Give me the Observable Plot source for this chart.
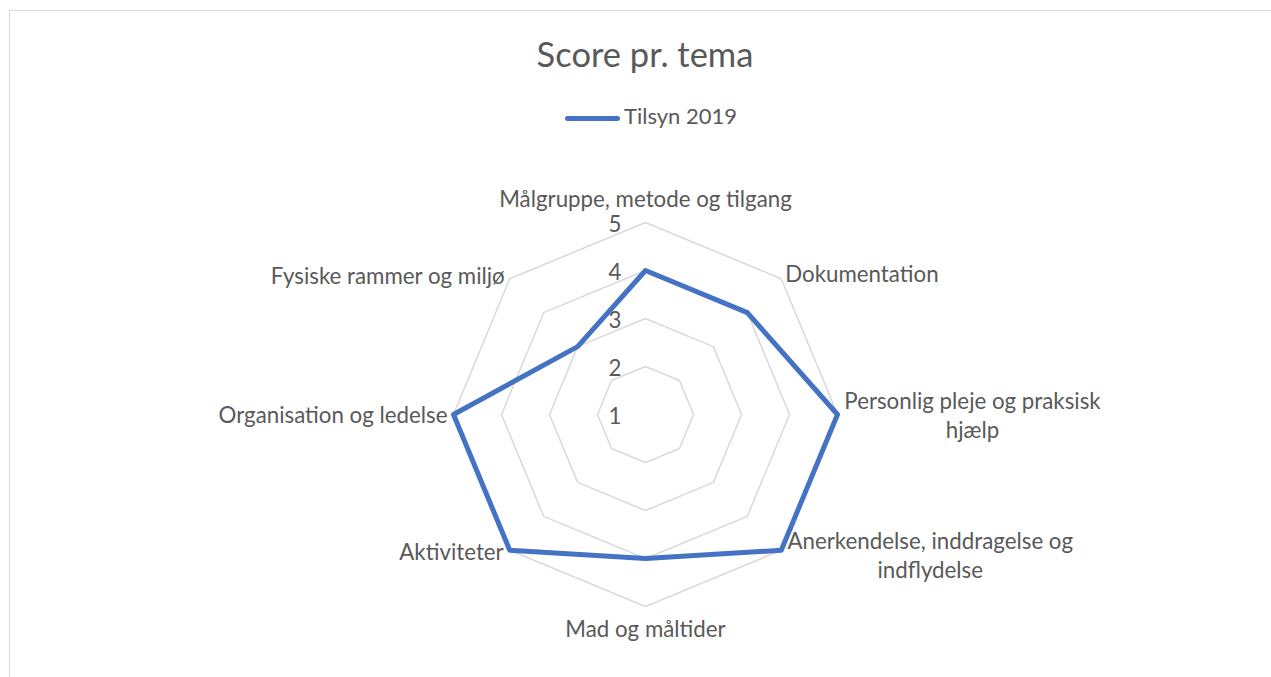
<!DOCTYPE html>
<html><head><meta charset="utf-8">
<script src="https://cdn.jsdelivr.net/npm/d3@7"></script>
<script src="https://cdn.jsdelivr.net/npm/@observablehq/plot@0.6"></script>
<style>
html,body{margin:0;padding:0;background:#fff;overflow:hidden;}
#wrap{position:relative;width:1271px;height:677px;font-family:Lato,"Open Sans",sans-serif;color:#595959;overflow:hidden;}
#frame{position:absolute;left:9px;top:10px;width:1300px;height:700px;border:1px solid #D9D9D9;box-sizing:border-box;}
#title{position:absolute;left:0;width:1290px;top:37px;text-align:center;font-size:34.5px;line-height:1;white-space:nowrap;}
#legline{position:absolute;left:565px;top:116px;width:55px;height:5px;border-radius:3px;background:#4472C4;}
#legtext{position:absolute;left:624px;top:105px;font-size:22px;line-height:1;white-space:nowrap;}
#chart{position:absolute;left:0;top:150px;}
</style>
</head><body>
<div id="wrap">
  <div id="frame"></div>
  <div id="title"></div>
  <div id="legline"></div>
  <div id="legtext"></div>
  <div id="chart"></div>
</div>
<script>
const chartTitle = "Score pr. tema";
const seriesName = "Tilsyn 2019";
const categories = [
  "Målgruppe, metode og tilgang",
  "Dokumentation",
  "Personlig pleje og praksisk hjælp",
  "Anerkendelse, inddragelse og indflydelse",
  "Mad og måltider",
  "Aktiviteter",
  "Organisation og ledelse",
  "Fysiske rammer og miljø"
];
const scores = [4, 4, 5, 5, 4, 5, 5, 3];
const ringLevels = [1, 2, 3, 4, 5];
const axisMin = 1, axisMax = 5;

document.getElementById("title").textContent = chartTitle;
document.getElementById("legtext").textContent = seriesName;

const W = 1271, H = 527, cx = 645, cy = 264, R = 192;
const n = categories.length;
const span = axisMax - axisMin;
const ang = i => i * 2 * Math.PI / n;
const toXY = (v, i) => ({x: (v - axisMin) * Math.sin(ang(i)), y: (v - axisMin) * Math.cos(ang(i))});

const rings = ringLevels.filter(v => v > axisMin)
  .flatMap(v => categories.map((c, i) => ({ring: v, ...toXY(v, i)})));
const series = categories.map((c, i) => ({cat: c, value: scores[i], ...toXY(scores[i], i)}));
const ringTicks = ringLevels.map(v => ({v, x: 0, y: v - axisMin}));
const labels = categories.map((c, i) => ({c, i, ...toXY(axisMax, i)}));

const FS = 22.3;
const placement = [
  {anchor: "middle", dx: 0, dy: -25},
  {anchor: "start", dx: 4, dy: -6},
  {anchor: "middle", dx: 135, dy: 0, lw: 13},
  {anchor: "middle", dx: 149, dy: 4, lw: 14.5},
  {anchor: "middle", dx: 0, dy: 21},
  {anchor: "end", dx: -6, dy: 1},
  {anchor: "end", dx: -6, dy: -1},
  {anchor: "end", dx: -5, dy: -4}
];

const chart = Plot.plot({
  width: W, height: H, margin: 0,
  x: {domain: [-span, span], range: [cx - R, cx + R], axis: null},
  y: {domain: [-span, span], range: [cy + R, cy - R], axis: null},
  style: {fontFamily: "Lato, 'Open Sans', sans-serif", fontSize: FS + "px", color: "#595959", background: "transparent", overflow: "visible"},
  marks: [
    Plot.line(rings, {x: "x", y: "y", z: "ring", curve: "linear-closed", stroke: "#D9D9D9", strokeWidth: 1.5}),
    Plot.line(series, {x: "x", y: "y", curve: "linear-closed", stroke: "#4472C4", strokeWidth: 5}),
    Plot.text(ringTicks, {x: "x", y: "y", text: d => String(d.v), textAnchor: "end", dx: -24, dy: 2, fill: "#595959", fontSize: FS}),
    ...placement.map((p, i) => Plot.text([labels[i]], {
      x: "x", y: "y", text: "c", textAnchor: p.anchor, dx: p.dx, dy: p.dy,
      lineWidth: p.lw, lineHeight: 1.28, fill: "#595959", fontSize: FS
    }))
  ]
});
document.getElementById("chart").appendChild(chart);
</script>
</body></html>
